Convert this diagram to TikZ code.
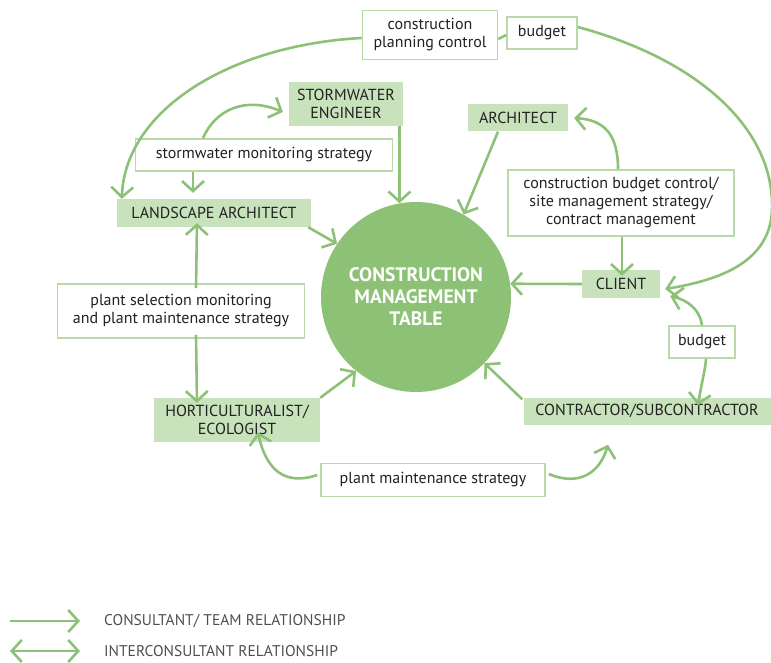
\documentclass[tikz,border=0pt]{standalone}
\usepackage{fontspec}
\setmainfont{PT Sans}
\usepackage{tikz}
\usetikzlibrary{arrows.meta}
\usetikzlibrary{positioning}
\definecolor{linegreen}{RGB}{141,193,120}
\definecolor{rolegreen}{RGB}{200,226,188}
\definecolor{noteedge}{RGB}{184,218,168}
\definecolor{tablegreen}{RGB}{141,193,117}
\definecolor{ink}{RGB}{34,34,34}

\begin{document}
\begin{tikzpicture}[x=1pt,y=-1pt,
  every node/.style={font=\fontsize{16}{18}\selectfont,text=ink,inner sep=2pt},
  role/.style={fill=rolegreen,align=center},
  note/.style={draw=noteedge,line width=1.6pt,fill=white,align=center},
  link/.style={draw=linegreen,line width=2.6pt,-{Straight Barb[length=10pt,width=22pt]}},
  both/.style={link,{Straight Barb[length=10pt,width=22pt]}-{Straight Barb[length=10pt,width=22pt]}}]
  \useasboundingbox (0,0) rectangle (771,663);

  \node (table) at (416,297)[circle,fill=tablegreen,minimum size=190pt,align=center,
     text=white,font=\fontsize{19.5}{22}\selectfont\bfseries]{CONSTRUCTION\\MANAGEMENT\\TABLE};
  \node (cpc) at (430,35)[note,minimum width=135pt,minimum height=49pt]{construction\\planning control};
  \node (bud1) at (542,33)[note,minimum width=70pt,minimum height=32pt]{budget};
  \node (sw) at (346,104)[role,minimum width=114pt,minimum height=44pt]{STORMWATER\\ENGINEER};
  \node (arch) at (518,118)[role,minimum width=100pt,minimum height=27pt]{ARCHITECT};
  \node (sms) at (264,155)[note,minimum width=257pt,minimum height=32pt]{stormwater monitoring strategy};
  \node (la) at (214,213)[role,minimum width=194pt,minimum height=28pt]{LANDSCAPE ARCHITECT};
  \node (cbc) at (621,203)[note,minimum width=226pt,minimum height=66pt]{construction budget control/\\site management strategy/\\contract management};
  \node (client) at (621,284)[role,minimum width=78pt,minimum height=28pt]{CLIENT};
  \node (psm) at (181,311)[note,minimum width=247pt,minimum height=54pt]{plant selection monitoring\\and plant maintenance strategy};
  \node (bud2) at (702,342)[note,minimum width=66pt,minimum height=32pt]{budget};
  \node (hort) at (237,420)[role,minimum width=166pt,minimum height=44pt]{HORTICULTURALIST/\\ECOLOGIST};
  \node (con) at (647,411)[role,minimum width=247pt,minimum height=27pt]{CONTRACTOR/SUBCONTRACTOR};
  \node (pms) at (433,480)[note,minimum width=224pt,minimum height=33pt]{plant maintenance strategy};

  \coordinate (key1a) at (10,621);
  \coordinate (key1b) at (80,621);
  \coordinate (key2a) at (10,651);
  \coordinate (key2b) at (80,651);
  \node[right=22pt of key1b,anchor=west,font=\fontsize{15.5}{17}\selectfont,text=ink!80] (key1){CONSULTANT/ TEAM RELATIONSHIP};
  \node[right=22pt of key2b,anchor=west,font=\fontsize{15.5}{17}\selectfont,text=ink!80] (key2){INTERCONSULTANT RELATIONSHIP};

  \draw[link] ([yshift=-3pt]cpc.west) .. controls (230,45) and (125,110) .. ([xshift=5pt]la.north west);
  \draw[linegreen,line width=2.6pt] ([yshift=-4pt]cpc.east) -- ([yshift=-2pt]bud1.west);
  \draw[link] ([yshift=6pt]bud1.east) .. controls (700,60) and (775,130) .. (772,210)
     .. controls (770,262) and (720,280) .. ([xshift=5pt,yshift=-5pt]client.east);
  \draw[link] ([xshift=-61pt]sms.north) .. controls (215,110) and (245,96) .. ([xshift=-6pt,yshift=-8pt]sw.west);
  \draw[link] ([xshift=-71pt]sms.south) -- ([xshift=-21pt,yshift=6pt]la.north);
  \draw[link] (table.100 |- sw.south) -- (table.100);
  \draw[link] ([xshift=-20pt]arch.south) -- (table.60);
  \draw[link] ([xshift=-3pt]cbc.north) .. controls (618,135) and (605,120) .. ([xshift=6pt]arch.east);
  \draw[link] ([xshift=1pt]cbc.south) -- ([xshift=1pt,yshift=-6pt]client.north);
  \draw[link] (client.west) -- (table.8);
  \draw[link] (bud2.north) .. controls (700,310) and (688,300) .. ([xshift=10pt,yshift=2pt]client.south east);
  \draw[link] ([xshift=4pt]bud2.south) .. controls (705,372) and (702,380) .. ([xshift=51pt,yshift=-8pt]con.north);
  \draw[link] ([xshift=-1pt,yshift=-2pt]con.north west) -- (table.-44);
  \draw[link] ([xshift=-3pt]la.south east) -- (table.146);
  \draw[link] ([xshift=15pt,yshift=-5pt]psm.north) -- ([xshift=-17pt,yshift=4pt]la.south);
  \draw[link] ([xshift=15pt,yshift=4pt]psm.south) -- ([xshift=-40pt,yshift=-5pt]hort.north);
  \draw[link] (hort.north east) -- (table.231);
  \draw[link] ([xshift=-3pt,yshift=5pt]pms.west) .. controls (285,486) and (266,470) .. ([xshift=21pt,yshift=10pt]hort.south);
  \draw[link] ([xshift=3pt,yshift=6pt]pms.east) .. controls (580,487) and (600,472) .. ([xshift=-39pt,yshift=-20pt]con.south);

  \draw[link] (key1a) -- (key1b);
  \draw[both] (key2a) -- (key2b);
\end{tikzpicture}
\end{document}
